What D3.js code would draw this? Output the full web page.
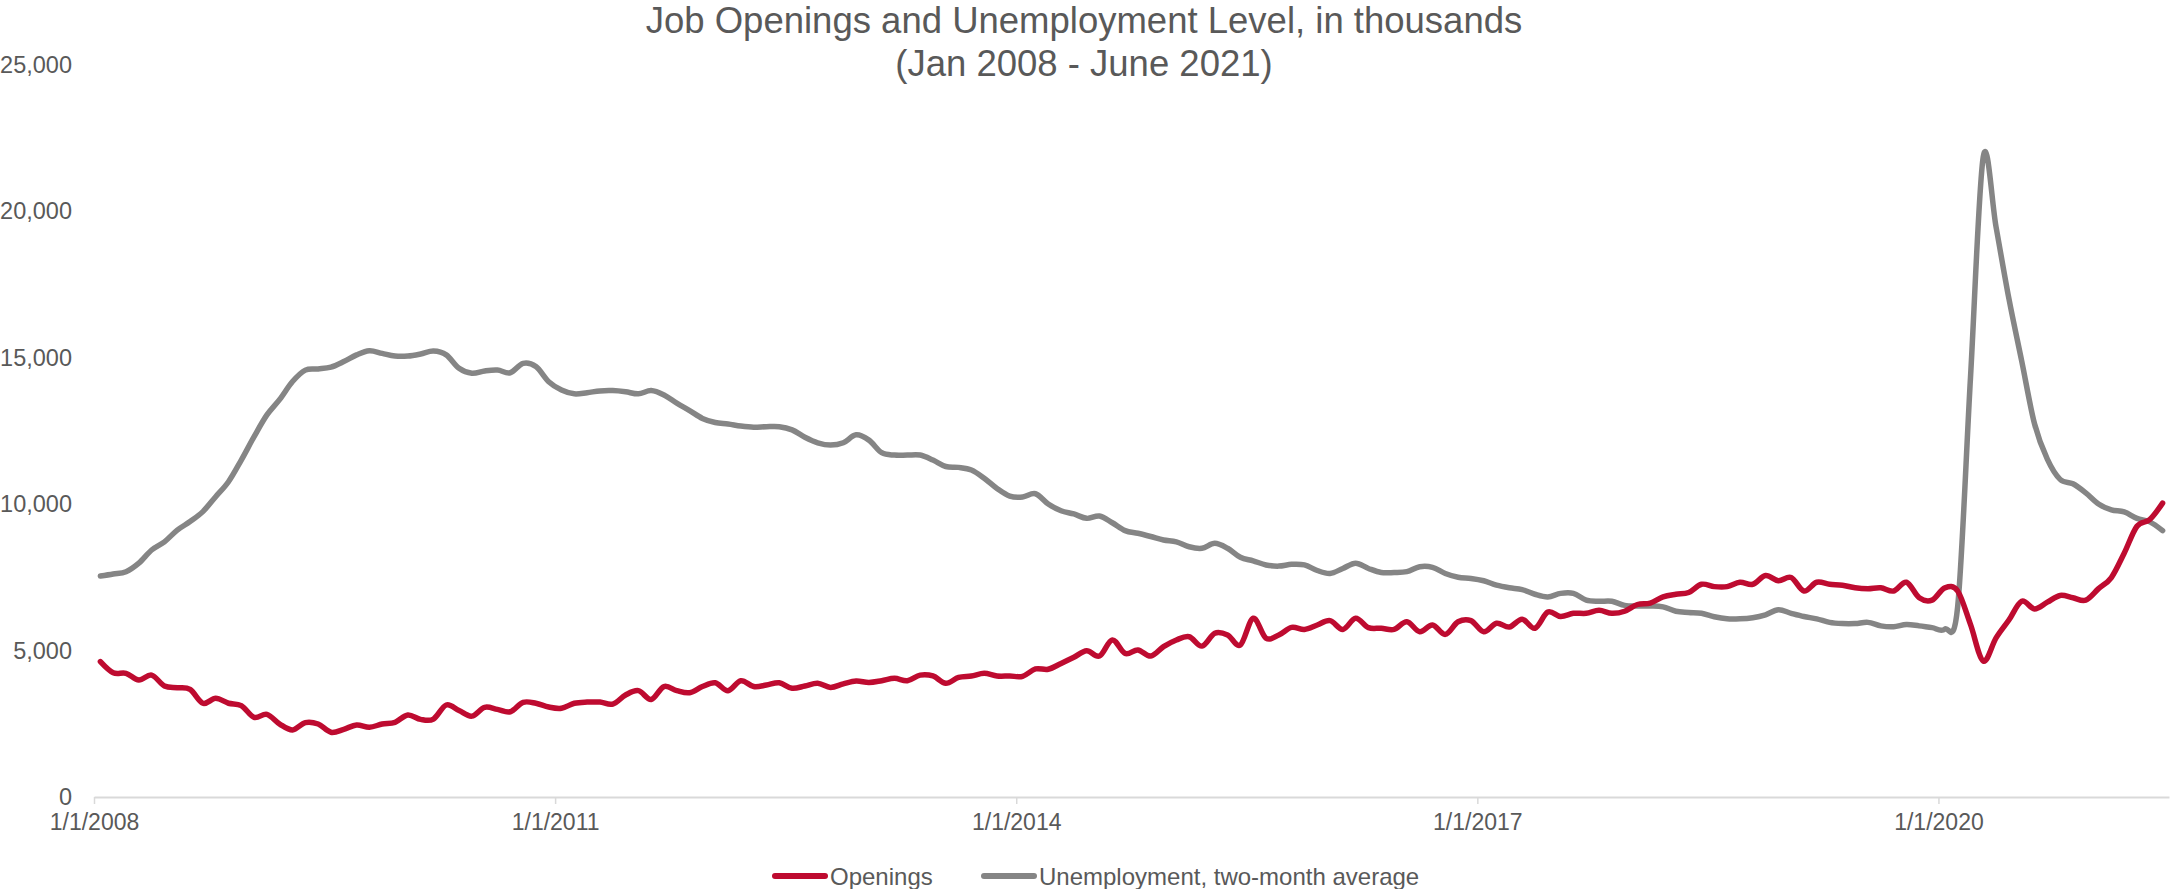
<!DOCTYPE html>
<html>
<head>
<meta charset="utf-8">
<script src="https://cdn.jsdelivr.net/npm/d3@7/dist/d3.min.js"></script>
<style>
  html, body { margin: 0; padding: 0; background: #ffffff; }
  svg { display: block; font-family: "Liberation Sans", Arial, sans-serif; }
</style>
</head>
<body>
<svg id="chart" width="2170" height="889"></svg>
<script>
// Monthly series, Jan 2008 through Jun 2021 (thousands)
const startYear = 2008;
const monthCount = 162;

const openings = [
  4620, 4240, 4220, 3990, 4160, 3790, 3730, 3670, 3200, 3370, 3200, 3120,
  2720, 2820, 2490, 2290, 2540, 2490, 2210, 2310, 2460, 2380, 2490, 2550,
  2800, 2650, 2660, 3140, 2950, 2760, 3060, 2990, 2910, 3230, 3200, 3070,
  3030, 3200, 3240, 3240, 3170, 3480, 3630, 3330, 3770, 3630, 3560, 3770,
  3900, 3630, 3970, 3770, 3820, 3900, 3710, 3790, 3880, 3740, 3860, 3960,
  3910, 3970, 4050, 3970, 4160, 4130, 3880, 4080, 4130, 4220, 4130, 4130,
  4120, 4370, 4360, 4560, 4770, 4990, 4810, 5360, 4900, 5020, 4810, 5130,
  5360, 5470, 5150, 5590, 5530, 5190, 6100, 5420, 5530, 5790, 5720, 5870,
  6020, 5720, 6100, 5780, 5760, 5720, 5980, 5640, 5870, 5550, 5980, 6020,
  5640, 5930, 5800, 6070, 5760, 6310, 6160, 6270, 6270, 6370, 6270, 6340,
  6570, 6620, 6830, 6920, 6980, 7260, 7180, 7180, 7330, 7260, 7560, 7380,
  7490, 7030, 7330, 7260, 7230, 7140, 7110, 7140, 7030, 7330, 6800, 6720,
  7140, 7030, 5890, 4640, 5430, 6040, 6680, 6420, 6650, 6880, 6800, 6720,
  7110, 7490, 8320, 9240, 9470, 10030
];

const unemploymentAvg = [
  7540, 7610, 7690, 7980, 8430, 8710, 9110, 9400, 9740, 10250, 10760, 11500,
  12300, 13040, 13570, 14180, 14570, 14610, 14670, 14860, 15090, 15230, 15140, 15050,
  15050, 15120, 15220, 15090, 14630, 14460, 14540, 14570, 14480, 14800, 14690, 14175,
  13890, 13760, 13800, 13860, 13870, 13830, 13760, 13870, 13720, 13440, 13190, 12920,
  12780, 12730, 12660, 12620, 12640, 12640, 12530, 12280, 12090, 12010, 12090, 12360,
  12180, 11750, 11670, 11670, 11670, 11500, 11280, 11250, 11160, 10880, 10530, 10270,
  10240, 10350, 10000, 9770, 9660, 9510, 9590, 9360, 9090, 9000, 8890, 8770,
  8710, 8540, 8490, 8660, 8490, 8180, 8060, 7920, 7880, 7940, 7920, 7730,
  7630, 7800, 7980, 7800, 7660, 7660, 7690, 7860, 7840, 7630, 7500, 7460,
  7380, 7230, 7140, 7080, 6920, 6830, 6950, 6950, 6720, 6680, 6680, 6540,
  6520, 6520, 6490, 6340, 6300, 6270, 6150, 6080, 6080, 6120, 6220, 6390,
  6270, 6160, 6080, 5960, 5920, 5920, 5960, 5840, 5810, 5890, 5840, 5780,
  5730, 6490, 14300, 21850, 19450, 17010, 14880, 12740, 11530, 10840, 10690, 10380,
  10000, 9800, 9730, 9510, 9390, 9090
];

const yTicks = [0, 5000, 10000, 15000, 20000, 25000];
const xTickMonths = [0, 36, 72, 108, 144];
const xTickLabels = ["1/1/2008", "1/1/2011", "1/1/2014", "1/1/2017", "1/1/2020"];

const seriesNames = ["Openings", "Unemployment, two-month average"];
const seriesColors = ["#BE0B30", "#858585"];

const titleLines = [
  "Job Openings and Unemployment Level, in thousands",
  "(Jan 2008 - June 2021)"
];

const svg = d3.select("#chart");
const textColor = "#595959";

const plot = { left: 94, right: 2169, top: 64.5, bottom: 797 };

// Month slots: each month occupies one unit, points sit in the middle of their slot
const x = d3.scaleLinear().domain([0, monthCount]).range([plot.left, plot.right]);
const y = d3.scaleLinear().domain([0, 25000]).range([plot.bottom, plot.top]);

// Title
svg.append("g")
  .selectAll("text")
  .data(titleLines)
  .join("text")
  .attr("x", 1084)
  .attr("y", (d, i) => 33 + i * 43)
  .attr("text-anchor", "middle")
  .attr("font-size", 36.5)
  .attr("fill", textColor)
  .text(d => d);

// Y axis (labels only)
const yAxis = svg.append("g")
  .attr("transform", `translate(${plot.left},0)`)
  .call(d3.axisLeft(y).tickValues(yTicks).tickFormat(d3.format(",")).tickSize(0).tickPadding(22));
yAxis.select(".domain").remove();
yAxis.selectAll("text")
  .attr("font-size", 23.5)
  .attr("fill", textColor)
  .attr("font-family", "'Liberation Sans', Arial, sans-serif");

// X axis
const xAxis = svg.append("g")
  .attr("transform", `translate(0,${plot.bottom})`)
  .call(d3.axisBottom(x)
    .tickValues(xTickMonths)
    .tickFormat((d, i) => xTickLabels[i])
    .tickSizeInner(7)
    .tickSizeOuter(0)
    .tickPadding(10));
xAxis.select(".domain").attr("stroke", "#D9D9D9").attr("stroke-width", 2);
xAxis.selectAll(".tick line").attr("stroke", "#D9D9D9").attr("stroke-width", 1.5);
xAxis.selectAll("text")
  .attr("font-size", 23)
  .attr("fill", textColor)
  .attr("font-family", "'Liberation Sans', Arial, sans-serif");

// Lines (smoothed)
const line = d3.line()
  .x((d, i) => x(i + 0.5))
  .y(d => y(d))
  .curve(d3.curveCatmullRom.alpha(0));

const series = [unemploymentAvg, openings];
const colorsDrawn = [seriesColors[1], seriesColors[0]];
svg.append("g")
  .selectAll("path")
  .data(series)
  .join("path")
  .attr("d", d => line(d))
  .attr("fill", "none")
  .attr("stroke", (d, i) => colorsDrawn[i])
  .attr("stroke-width", 5.5)
  .attr("stroke-linecap", "round")
  .attr("stroke-linejoin", "round");

// Legend
const legendItems = [
  { name: seriesNames[0], color: seriesColors[0], x0: 772 },
  { name: seriesNames[1], color: seriesColors[1], x0: 981 }
];
const legend = svg.append("g").attr("transform", "translate(0,876)");
const li = legend.selectAll("g").data(legendItems).join("g")
  .attr("transform", d => `translate(${d.x0},0)`);
li.append("line")
  .attr("x1", 3).attr("x2", 53).attr("y1", 0).attr("y2", 0)
  .attr("stroke", d => d.color)
  .attr("stroke-width", 6)
  .attr("stroke-linecap", "round");
li.append("text")
  .attr("x", 58)
  .attr("y", 8.5)
  .attr("font-size", 24)
  .attr("fill", textColor)
  .text(d => d.name);
</script>
</body>
</html>
